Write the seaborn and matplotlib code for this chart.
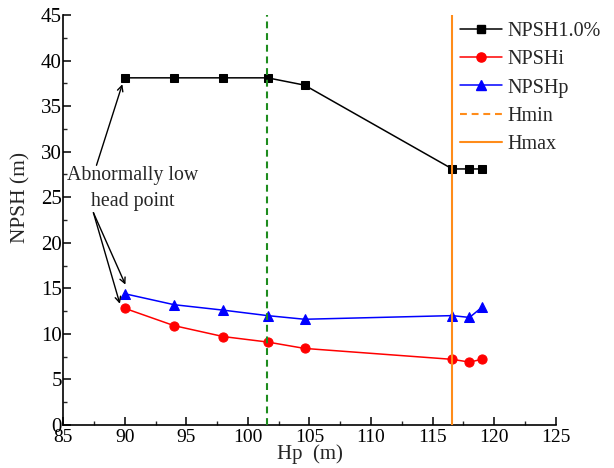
import matplotlib
matplotlib.use("Agg")
import matplotlib.pyplot as plt
from matplotlib.lines import Line2D
from matplotlib.ticker import MultipleLocator
import seaborn as sns
import pandas as pd

# Pump head (m) and measured cavitation margins (m)
hp = [90.0, 94.0, 98.0, 101.6, 104.6, 116.6, 118.0, 119.0]
npsh_1pct = [38.1, 38.1, 38.1, 38.1, 37.3, 28.1, 28.1, 28.1]
npsh_i = [12.8, 10.9, 9.7, 9.1, 8.4, 7.2, 6.9, 7.2]
npsh_p = [14.4, 13.2, 12.6, 12.0, 11.6, 12.0, 11.8, 12.9]
h_min = 101.55
h_max = 116.55

series_names = ["NPSH1.0%", "NPSHi", "NPSHp"]
limit_names = ["Hmin", "Hmax"]

sns.set_style("ticks")
plt.rcParams["font.family"] = ["Liberation Serif", "DejaVu Serif"]

df = pd.DataFrame({
    "Hp": hp * 3,
    "NPSH": npsh_1pct + npsh_i + npsh_p,
    "series": [series_names[0]] * len(hp) + [series_names[1]] * len(hp) + [series_names[2]] * len(hp),
})

fig = plt.figure(figsize=(6.14, 4.68), dpi=100)
ax = fig.add_axes([0.103, 0.092, 0.802, 0.876])

colors = {"NPSH1.0%": "black", "NPSHi": "#ff0000", "NPSHp": "#0000ff"}
markers = {"NPSH1.0%": "s", "NPSHi": "o", "NPSHp": "^"}
msizes = {"NPSH1.0%": 6, "NPSHi": 6.6, "NPSHp": 6.8}
green = "#1e8c1e"
orange = "#ff8c1a"

for name in series_names:
    sub = df[df["series"] == name]
    sns.lineplot(data=sub, x="Hp", y="NPSH", ax=ax, color=colors[name],
                 marker=markers[name], markersize=msizes[name],
                 markeredgecolor=colors[name], linewidth=1.1, legend=False,
                 sort=False, estimator=None)

ax.axvline(h_min, color=green, linestyle=(0, (3.3, 2.3)), linewidth=1.5, zorder=3)
ax.axvline(h_max, color=orange, linestyle="-", linewidth=1.5, zorder=3)

ax.set_xlim(85, 125)
ax.set_ylim(0, 45)
ax.xaxis.set_major_locator(MultipleLocator(5))
ax.xaxis.set_minor_locator(MultipleLocator(2.5))
ax.yaxis.set_major_locator(MultipleLocator(5))
ax.yaxis.set_minor_locator(MultipleLocator(2.5))
ax.tick_params(which="major", direction="in", length=6, width=1.1,
               colors="black", pad=2)
ax.tick_params(which="minor", direction="in", length=3, width=1.0)
ax.tick_params(axis="x", which="major", labelsize=14, pad=3)
ax.tick_params(axis="y", which="major", labelsize=15, pad=1)
for side in ["top", "right"]:
    ax.spines[side].set_visible(False)
for side in ["left", "bottom"]:
    ax.spines[side].set_linewidth(1.2)
    ax.spines[side].set_color("black")

ax.set_xlabel("Hp  (m)", fontsize=15, labelpad=-1)
ax.set_ylabel("NPSH (m)", fontsize=15.5)
ax.yaxis.set_label_coords(-0.066, 0.554)

# Annotation for the abnormal point at the lowest head
ax.text(90.63, 25.95, "Abnormally low\nhead point", ha="center", va="center",
        fontsize=14.3, linespacing=1.5)
arrow = dict(arrowstyle="->", color="black", lw=1.0, shrinkA=0, shrinkB=0)
ax.annotate("", xy=(89.8, 37.4), xytext=(87.7, 28.5), arrowprops=arrow)
ax.annotate("", xy=(90.05, 15.4), xytext=(87.45, 23.3), arrowprops=arrow)
ax.annotate("", xy=(89.6, 13.3), xytext=(87.45, 23.3), arrowprops=arrow)

handles = [
    Line2D([], [], color="black", marker="s", markersize=6, lw=1.1),
    Line2D([], [], color="#ff0000", marker="o", markersize=6.6, lw=1.1),
    Line2D([], [], color="#0000ff", marker="^", markersize=6.8, lw=1.1),
    Line2D([], [], color=orange, linestyle=(0, (3.3, 2.3)), lw=1.5),
    Line2D([], [], color=orange, linestyle="-", lw=1.5),
]
leg = fig.legend(handles, series_names + limit_names, loc="upper left",
                 bbox_to_anchor=(0.736, 0.970), frameon=False, fontsize=14.5,
                 handlelength=2.1, handletextpad=0.25, labelspacing=0.45,
                 borderaxespad=0)

fig.savefig("out.png", dpi=100)
